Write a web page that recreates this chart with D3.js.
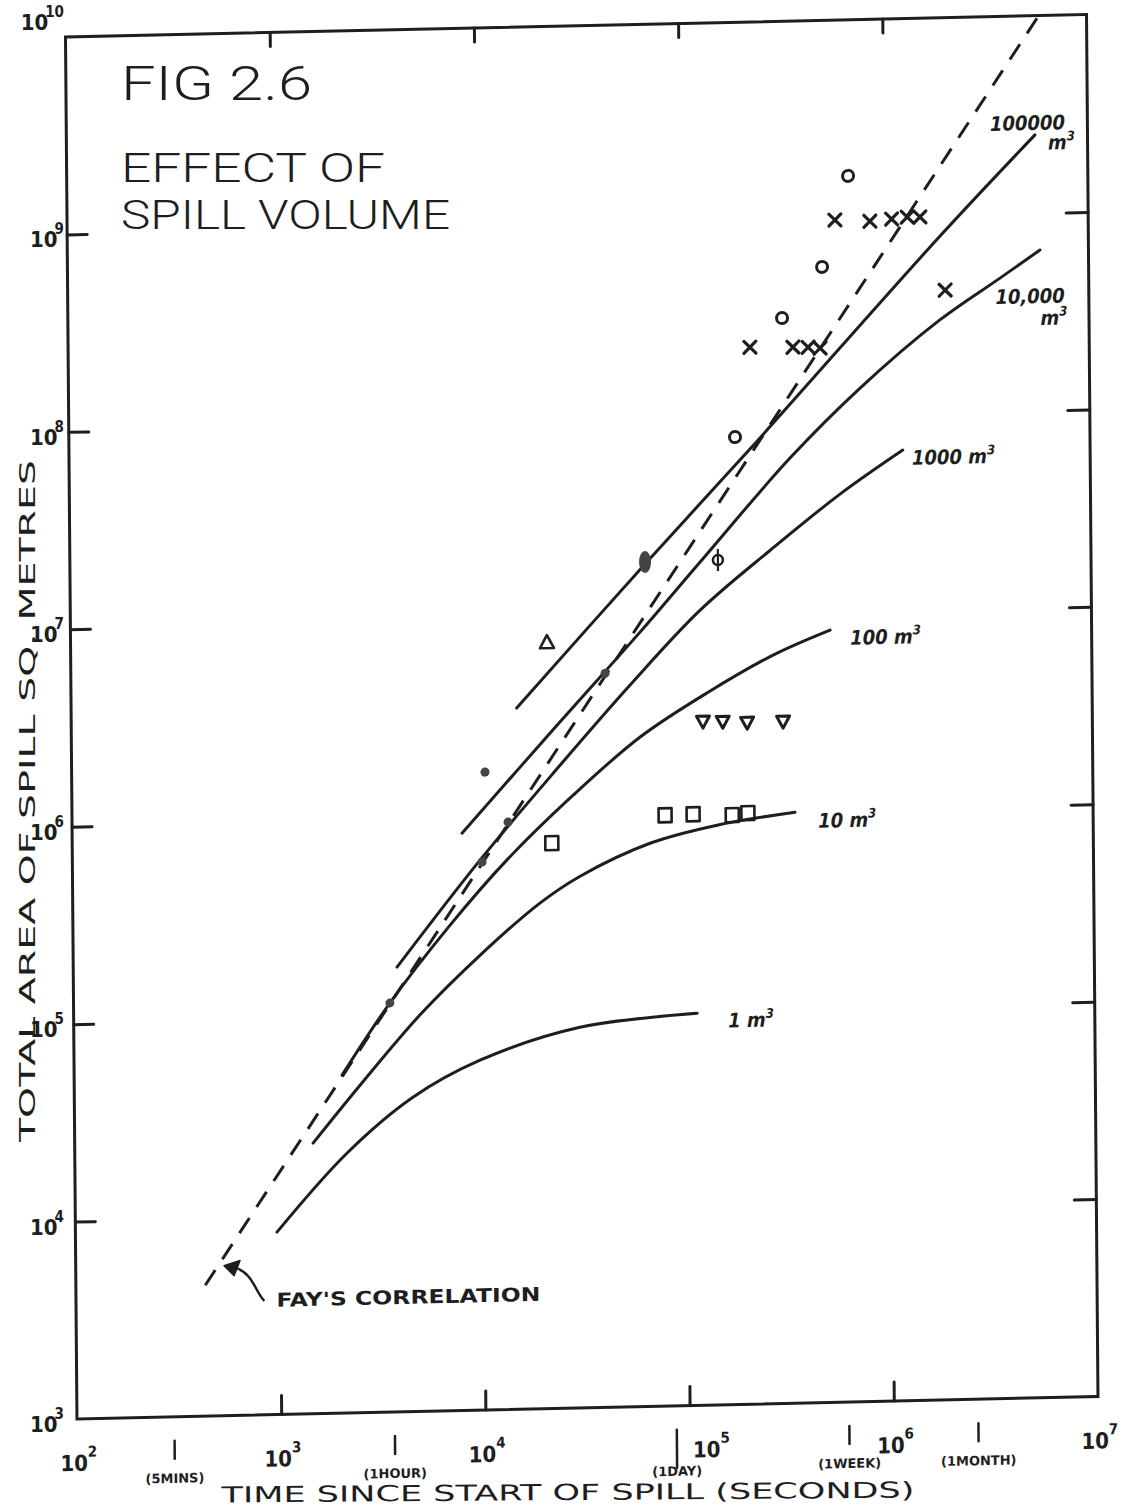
<!DOCTYPE html>
<html>
<head>
<meta charset="utf-8">
<script src="https://cdn.jsdelivr.net/npm/d3@7"></script>
<style>
  html, body { margin: 0; padding: 0; background: #ffffff; }
  svg { display: block; }
  text { font-family: "DejaVu Sans", "Liberation Sans", sans-serif; fill: #1e1e1e; }
  .title { font-family: "Roboto", "DejaVu Sans", sans-serif; font-weight: 300; }
  .tick10 { font-family: "Liberation Sans Narrow", "DejaVu Sans Condensed", sans-serif; font-size: 22px; font-weight: bold; }
  .mark { font-size: 13px; font-weight: bold; }
  .vol { font-family: "DejaVu Sans Condensed", "DejaVu Sans", sans-serif; font-size: 20px; font-weight: bold; font-style: italic; }
  .axtitle { font-size: 22px; }
</style>
</head>
<body>
<svg id="chart" width="1123" height="1509"></svg>
<script>
// ---- axes: time since start of spill (s) and total slick area (m²) ----
const xDecades = [1e2, 1e3, 1e4, 1e5, 1e6, 1e7];
const yDecades = [1e3, 1e4, 1e5, 1e6, 1e7, 1e8, 1e9, 1e10];
const xTicks = [1e3, 1e4, 1e5, 1e6];
const yTicks = [1e4, 1e5, 1e6, 1e7, 1e8, 1e9];
const timeMarks = [300, 3600, 86400, 604800, 2592000];
const timeMarkLabels = ["(5MINS)", "(1HOUR)", "(1DAY)", "(1WEEK)", "(1MONTH)"];

// ---- Fay's correlation (dashed) ----
const fayTime = [430, 5.73e6];
const fayArea = [4.6e3, 9.73e9];

// ---- spreading curves, one per spill volume ----
const volumeNames = ["1", "10", "100", "1000", "10,000", "100000"];
const vol1Time = [970, 2150, 4550, 9730, 30100, 113000];
const vol1Area = [8.4e3, 2.07e4, 3.91e4, 5.92e4, 8.47e4, 9.68e4];
const vol10Time = [1470, 2510, 4970, 9820, 19400, 30600, 67500, 144000, 347000];
const vol10Area = [2.35e4, 4.56e4, 1.02e5, 2.01e5, 3.64e5, 4.93e5, 7.11e5, 8.63e5, 9.84e5];
const vol100Time = [2050, 3540, 7030, 13400, 28500, 61000, 130000, 275000, 524000];
const vol100Area = [5.15e4, 1.18e5, 2.88e5, 6.06e5, 1.27e6, 2.46e6, 4.04e6, 6.18e6, 8.15e6];
const vol1000Time = [3850, 9910, 24700, 54700, 121000, 269000, 594000, 1.21e6];
const vol1000Area = [1.79e5, 6.10e5, 1.81e6, 4.52e6, 1.06e7, 2.10e7, 3.97e7, 6.53e7];
const vol10000Time = [8110, 24700, 61500, 121600, 339000, 752000, 1.86e6, 3.68e6, 5.79e6];
const vol10000Area = [8.39e5, 2.99e6, 8.36e6, 1.86e7, 6.12e7, 1.36e8, 2.95e8, 4.73e8, 6.50e8];
const vol100000Time = [15200, 65500, 216000, 1.88e6, 5.53e6];
const vol100000Area = [3.56e6, 1.85e7, 6.87e7, 7.85e8, 2.49e9];

// ---- observed slicks ----
const circleTime = [182800, 314100, 495500, 669900];
const circleArea = [7.93e7, 3.14e8, 5.64e8, 1.62e9];
const crossTime = [218000, 354000, 420000, 481000, 575000, 853000, 1.09e6, 1.30e6, 1.50e6, 1.98e6];
const crossArea = [2.25e8, 2.23e8, 2.22e8, 2.19e8, 9.72e8, 9.50e8, 9.68e8, 9.88e8, 9.84e8, 4.17e8];
const dotTime = [3540, 10140, 10570, 13640, 41300];
const dotArea = [1.18e5, 5.96e5, 1.70e6, 9.44e5, 5.22e6];
const blobTime = [65500];
const blobArea = [1.89e7];
const phiTime = [149000];
const phiArea = [1.90e7];
const triUpTime = [21500];
const triUpArea = [7.62e6];
const triDownTime = [124000, 155000, 204000, 306000];
const triDownArea = [2.88e6, 2.86e6, 2.81e6, 2.82e6];
const squareTime = [22300, 80200, 110000, 171000, 204000];
const squareArea = [7.30e5, 9.82e5, 9.86e5, 9.66e5, 9.85e5];

// ---- layout ----
const W = 1021, H = 1382;
const ink = "#1e1e1e";
const x = d3.scaleLog().domain([1e2, 1e7]).range([0, W]);
const y = d3.scaleLog().domain([1e3, 1e10]).range([H, 0]);

const svg = d3.select("#chart");
svg.append("rect").attr("width", 1123).attr("height", 1509).attr("fill", "#ffffff");

// the hand-ruled graph sits a little askew on its sheet
const g = svg.append("g").attr("transform", "matrix(1,-0.022,0.0083,1,65.5,37)");

// frame
g.append("rect").attr("x", 0).attr("y", 0).attr("width", W).attr("height", H)
  .attr("fill", "none").attr("stroke", ink).attr("stroke-width", 3);

// inward tick marks on all four sides
function styleAxis(sel) {
  sel.select(".domain").remove();
  sel.selectAll(".tick line").attr("stroke", ink).attr("stroke-width", 3).attr("stroke-linecap", "round");
}
g.append("g").attr("transform", `translate(0,${H})`)
  .call(d3.axisBottom(x).tickValues(xTicks).tickSize(-19).tickFormat("")).call(styleAxis);
g.append("g")
  .call(d3.axisTop(x).tickValues(xTicks).tickSize(-14).tickFormat("")).call(styleAxis);
g.append("g")
  .call(d3.axisLeft(y).tickValues(yTicks).tickSize(-20).tickFormat("")).call(styleAxis);
g.append("g").attr("transform", `translate(${W},0)`)
  .call(d3.axisRight(y).tickValues(yTicks).tickSize(-22).tickFormat("")).call(styleAxis);

// familiar time spans under the time axis
const markNearDecade = d => timeMarks.find(s => Math.abs(x(s) - x(d)) < 20);
timeMarks.forEach((s, i) => {
  const px = x(s);
  const crowded = xDecades.some(d => Math.abs(x(d) - px) < 20);
  g.append("line").attr("x1", px).attr("x2", px)
    .attr("y1", H + 24).attr("y2", H + (crowded ? 62 : 42))
    .attr("stroke", ink).attr("stroke-width", 2.5).attr("stroke-linecap", "round");
  g.append("text").attr("class", "mark").attr("x", px).attr("y", H + (crowded ? 70 : 66))
    .attr("text-anchor", "middle").text(timeMarkLabels[i]);
});

// decade labels "10^n" along the time axis
xDecades.forEach(d => {
  const near = markNearDecade(d);
  const lx = near !== undefined ? x(near) + 16 : x(d) - 17;
  const t = g.append("text").attr("class", "tick10").attr("x", lx).attr("y", H + 52);
  t.append("tspan").text("10");
  t.append("tspan").attr("dy", -14).attr("font-size", 15).text(Math.round(Math.log10(d)));
});

// decade labels up the area axis (kept upright, level with each tick)
const yl = svg.append("g").attr("transform", "translate(0,37)");
yDecades.forEach(d => {
  const top = d === y.domain()[1];
  const t = yl.append("text").attr("class", "tick10")
    .attr("x", 64).attr("y", top ? y(d) - 7 : y(d) + 13).attr("text-anchor", "end");
  t.append("tspan").text("10");
  t.append("tspan").attr("dy", -13).attr("dx", -3).attr("font-size", 15).text(Math.round(Math.log10(d)));
});

// Fay's correlation
const line = d3.line().x(d => x(d[0])).y(d => y(d[1]));
g.append("path").datum(d3.zip(fayTime, fayArea))
  .attr("d", line).attr("fill", "none").attr("stroke", ink)
  .attr("stroke-width", 3).attr("stroke-dasharray", "18,13");

// spreading curves
const curveTimes = [vol1Time, vol10Time, vol100Time, vol1000Time, vol10000Time, vol100000Time];
const curveAreas = [vol1Area, vol10Area, vol100Area, vol1000Area, vol10000Area, vol100000Area];
const smooth = d3.line().x(d => x(d[0])).y(d => y(d[1])).curve(d3.curveCatmullRom.alpha(0.5));
curveTimes.forEach((ts, i) => {
  g.append("path").datum(d3.zip(ts, curveAreas[i]))
    .attr("d", smooth).attr("fill", "none").attr("stroke", ink)
    .attr("stroke-width", 3).attr("stroke-linecap", "round");
});

// volume labels beside the end of each curve
const labelNudge = [
  { dx: 31, dy: 15 }, { dx: 23, dy: 16 }, { dx: 20, dy: 15 }, { dx: 9, dy: 15 },
  { dx: -45, dy: 53, udx: 0, udy: 75 }, { dx: -45, dy: -5, udx: 13, udy: 15 }
];
function unit(textSel) {
  textSel.append("tspan").text("m");
  textSel.append("tspan").attr("dy", -9).attr("font-size", 13).text("3");
}
curveTimes.forEach((ts, i) => {
  const n = ts.length - 1;
  const ex = x(ts[n]), ey = y(curveAreas[i][n]);
  const nd = labelNudge[i];
  const t = g.append("text").attr("class", "vol").attr("x", ex + nd.dx).attr("y", ey + nd.dy);
  t.append("tspan").text(volumeNames[i]);
  if (nd.udx === undefined) {
    t.append("tspan").text(" ");
    unit(t);
  } else {
    unit(g.append("text").attr("class", "vol").attr("x", ex + nd.udx).attr("y", ey + nd.udy));
  }
});

// Fay's correlation callout, pointing up at the dashed line
const fayAt = 570;
const fayExp = Math.log(fayArea[1] / fayArea[0]) / Math.log(fayTime[1] / fayTime[0]);
const tx = x(fayAt) - 6, ty = y(fayArea[0] * Math.pow(fayAt / fayTime[0], fayExp)) + 18;
g.append("path")
  .attr("d", `M${tx + 40},${ty + 36} C${tx + 31},${ty + 27} ${tx + 29},${ty + 8} ${tx + 11},${ty + 2}`)
  .attr("fill", "none").attr("stroke", ink).attr("stroke-width", 2.5);
g.append("path")
  .attr("d", `M${tx},${ty} L${tx + 16},${ty - 5} L${tx + 10},${ty + 10} Z`)
  .attr("fill", ink).attr("stroke", ink).attr("stroke-width", 1.5).attr("stroke-linejoin", "round");
g.append("text").attr("x", tx + 52).attr("y", ty + 42)
  .attr("font-size", 19).attr("font-weight", "bold").attr("textLength", 264)
  .attr("lengthAdjust", "spacingAndGlyphs").text("FAY'S CORRELATION");

// observed slicks
const pts = (ts, as) => d3.zip(ts, as).map(d => [x(d[0]), y(d[1])]);
const marks = g.append("g").attr("stroke", ink).attr("fill", "none").attr("stroke-width", 2.6)
  .attr("stroke-linejoin", "round");

marks.selectAll(".c").data(pts(circleTime, circleArea)).join("circle")
  .attr("cx", d => d[0]).attr("cy", d => d[1]).attr("r", 5.5).attr("stroke-width", 3);

marks.selectAll(".x").data(pts(crossTime, crossArea)).join("path")
  .attr("d", d => `M${d[0] - 6},${d[1] - 6}L${d[0] + 6},${d[1] + 6}M${d[0] + 6},${d[1] - 6}L${d[0] - 6},${d[1] + 6}`)
  .attr("stroke-width", 3.2).attr("stroke-linecap", "round");

marks.selectAll(".d").data(pts(dotTime, dotArea)).join("circle")
  .attr("cx", d => d[0]).attr("cy", d => d[1]).attr("r", 4.5).attr("fill", "#444").attr("stroke", "none");

marks.selectAll(".b").data(pts(blobTime, blobArea)).join("ellipse")
  .attr("cx", d => d[0]).attr("cy", d => d[1]).attr("rx", 6).attr("ry", 11).attr("fill", "#444").attr("stroke", "none");

pts(phiTime, phiArea).forEach(d => {
  marks.append("circle").attr("cx", d[0]).attr("cy", d[1]).attr("r", 5).attr("stroke-width", 2.5);
  marks.append("line").attr("x1", d[0]).attr("x2", d[0]).attr("y1", d[1] - 11).attr("y2", d[1] + 11).attr("stroke-width", 2.2);
});

marks.selectAll(".tu").data(pts(triUpTime, triUpArea)).join("path")
  .attr("d", d => `M${d[0] - 7},${d[1] + 6}L${d[0] + 7},${d[1] + 6}L${d[0]},${d[1] - 7}Z`);

marks.selectAll(".td").data(pts(triDownTime, triDownArea)).join("path")
  .attr("d", d => `M${d[0] - 6.5},${d[1] - 6}L${d[0] + 6.5},${d[1] - 6}L${d[0]},${d[1] + 6}Z`)
  .attr("stroke-width", 3);

marks.selectAll(".s").data(pts(squareTime, squareArea)).join("rect")
  .attr("x", d => d[0] - 6.5).attr("y", d => d[1] - 7).attr("width", 13).attr("height", 14);

// ---- titles ----
svg.append("text").attr("class", "title").attr("x", 121).attr("y", 100)
  .attr("font-size", 49).attr("textLength", 191).attr("lengthAdjust", "spacingAndGlyphs").text("FIG 2.6");
svg.append("text").attr("class", "title").attr("font-size", 40).attr("x", 121).attr("y", 182)
  .attr("textLength", 264).attr("lengthAdjust", "spacingAndGlyphs").text("EFFECT OF");
svg.append("text").attr("class", "title").attr("font-size", 40).attr("x", 121).attr("y", 229)
  .attr("textLength", 329).attr("lengthAdjust", "spacingAndGlyphs").text("SPILL VOLUME");

svg.append("text").attr("class", "axtitle").attr("font-size", 27)
  .attr("transform", "translate(35,801) rotate(-90)")
  .attr("text-anchor", "middle").attr("textLength", 682).attr("lengthAdjust", "spacingAndGlyphs")
  .text("TOTAL AREA OF SPILL SQ. METRES");

svg.append("text").attr("class", "axtitle")
  .attr("transform", "translate(568,1500) rotate(-0.4)")
  .attr("text-anchor", "middle").attr("textLength", 693).attr("lengthAdjust", "spacingAndGlyphs")
  .text("TIME SINCE START OF SPILL (SECONDS)");
</script>
</body>
</html>
